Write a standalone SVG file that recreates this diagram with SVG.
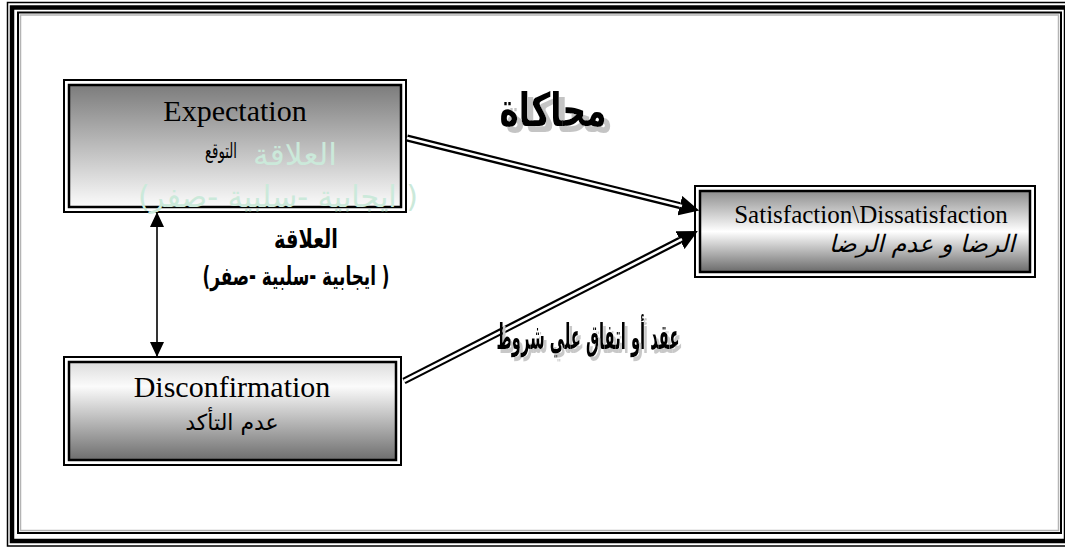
<svg xmlns="http://www.w3.org/2000/svg" width="1065" height="548" viewBox="0 0 1065 548">
  <style>
    .frame { fill: none; stroke: #000; }
    .box-out { fill: none; stroke: #000; stroke-width: 2; }
    .box-in { stroke: #000; stroke-width: 2.5; }
    .en { font-family: "Liberation Serif", "Times New Roman", serif; fill: #000; text-anchor: middle; }
    .ar { font-family: "DejaVu Sans", "Noto Sans", sans-serif; fill: #000; text-anchor: middle; direction: rtl; }
    .ghost { fill: #cbe9da; }
    .dbl-outer { fill: none; stroke: #000; stroke-width: 7; }
    .dbl-inner { fill: none; stroke: #fff; stroke-width: 2.6; }
    .thin { fill: none; stroke: #000; stroke-width: 1.6; }
  </style>
  <defs>
    <linearGradient id="gExp" x1="0" y1="0" x2="0" y2="1">
      <stop offset="0" stop-color="#7c7c7c"/>
      <stop offset="1" stop-color="#fbfbfb"/>
    </linearGradient>
    <linearGradient id="gDis" x1="0" y1="0" x2="0" y2="1">
      <stop offset="0" stop-color="#dcdcdc"/>
      <stop offset="0.25" stop-color="#fbfbfb"/>
      <stop offset="1" stop-color="#6e6e6e"/>
    </linearGradient>
    <linearGradient id="gSat" x1="0" y1="0" x2="0" y2="1">
      <stop offset="0" stop-color="#8e8e8e"/>
      <stop offset="0.5" stop-color="#ffffff"/>
      <stop offset="1" stop-color="#6a6a6a"/>
    </linearGradient>
    <!-- grey offset shadow behind the large headings -->
    <filter id="shadowBig" x="-10%" y="-20%" width="130%" height="150%">
      <feFlood flood-color="#c4c4c4"/>
      <feComposite in2="SourceAlpha" operator="in"/>
      <feOffset dx="6" dy="6" result="sh"/>
      <feMerge><feMergeNode in="sh"/><feMergeNode in="SourceGraphic"/></feMerge>
    </filter>
    <filter id="shadowSmall" x="-10%" y="-20%" width="130%" height="150%">
      <feFlood flood-color="#c8c8c8"/>
      <feComposite in2="SourceAlpha" operator="in"/>
      <feOffset dx="3" dy="4" result="sh"/>
      <feMerge><feMergeNode in="sh"/><feMergeNode in="SourceGraphic"/></feMerge>
    </filter>
    <marker id="bigHead" markerUnits="userSpaceOnUse" markerWidth="20" markerHeight="20" refX="0" refY="10" orient="auto" viewBox="0 0 20 20">
      <path d="M0,0 L20,10 L0,20 Z" fill="#000"/>
    </marker>
    <marker id="smallHead" markerUnits="userSpaceOnUse" markerWidth="15" markerHeight="14" refX="15" refY="7" orient="auto-start-reverse" viewBox="0 0 15 14">
      <path d="M0,0 L15,7 L0,14 Z" fill="#000"/>
    </marker>
  </defs>

  <rect width="1065" height="548" fill="#fff"/>

  <!-- page border: thin, thick, thin and a grey inner rule -->
  <g id="border">
    <rect class="frame" x="7.5" y="2.5" width="1062" height="543.5" stroke-width="1.5"/>
    <rect class="frame" x="12" y="7.5" width="1054" height="533.5" stroke-width="4.5"/>
    <rect class="frame" x="18" y="12.5" width="1043" height="520.5" stroke-width="2"/>
    <rect x="20.5" y="15" width="1038" height="515.5" fill="none" stroke="#b4b4b4" stroke-width="1.5"/>
  </g>

  <g id="node-expectation">
    <rect class="box-out" x="64" y="80" width="342" height="132"/>
    <rect class="box-in" x="69" y="85" width="332" height="122" fill="url(#gExp)"/>
    <text class="en" x="235" y="121" font-size="30">Expectation</text>
    <text class="ar" x="221" y="158" font-size="21" textLength="32" lengthAdjust="spacingAndGlyphs">التوقع</text>
  </g>

  <!-- faint watermark copy of the relation label -->
  <g id="ghost-label">
    <text class="ar ghost" x="295" y="165" font-size="30" textLength="84" lengthAdjust="spacingAndGlyphs">العلاقة</text>
    <text class="ar ghost" x="278" y="207" font-size="30" textLength="280" lengthAdjust="spacingAndGlyphs">( ايجابية -سلبية -صفر)</text>
  </g>

  <g id="node-disconfirmation">
    <rect class="box-out" x="64" y="357" width="337" height="108"/>
    <rect class="box-in" x="69" y="362" width="327" height="98" fill="url(#gDis)"/>
    <text class="en" x="232" y="397" font-size="30">Disconfirmation</text>
    <text class="ar" x="232" y="430" font-size="22">عدم التأكد</text>
  </g>

  <g id="node-satisfaction">
    <rect class="box-out" x="695" y="186" width="340" height="91"/>
    <rect class="box-in" x="700" y="191" width="330" height="81" fill="url(#gSat)"/>
    <text class="en" x="871" y="223" font-size="25">Satisfaction\Dissatisfaction</text>
    <text class="ar" x="922" y="252" font-size="24" font-style="italic">الرضا و عدم الرضا</text>
  </g>

  <g id="connectors">
    <!-- Expectation -> Satisfaction -->
    <line class="dbl-outer" x1="407" y1="138" x2="679.8" y2="205.6" marker-end="url(#bigHead)"/>
    <line class="dbl-inner" x1="407" y1="138" x2="682" y2="206.1"/>
    <!-- Disconfirmation -> Satisfaction -->
    <line class="dbl-outer" x1="404" y1="381" x2="680" y2="240.2" marker-end="url(#bigHead)"/>
    <line class="dbl-inner" x1="404" y1="381" x2="682" y2="239.2"/>
    <!-- Expectation <-> Disconfirmation -->
    <line class="thin" x1="157" y1="212" x2="157" y2="357" marker-start="url(#smallHead)" marker-end="url(#smallHead)"/>
  </g>

  <g id="labels">
    <text class="ar" x="306" y="248" font-size="26" font-weight="bold" textLength="64" lengthAdjust="spacingAndGlyphs">العلاقة</text>
    <text class="ar" x="296" y="285" font-size="26" font-weight="bold" textLength="187" lengthAdjust="spacingAndGlyphs">( ايجابية -سلبية -صفر)</text>
    <text class="ar" x="553" y="126" font-size="46" font-weight="bold" textLength="107" lengthAdjust="spacingAndGlyphs" filter="url(#shadowBig)">محاكاة</text>
    <text class="ar" x="588" y="349" font-size="35" font-weight="bold" textLength="183" lengthAdjust="spacingAndGlyphs" filter="url(#shadowSmall)">عقد أو اتفاق علي شروط</text>
  </g>
</svg>
